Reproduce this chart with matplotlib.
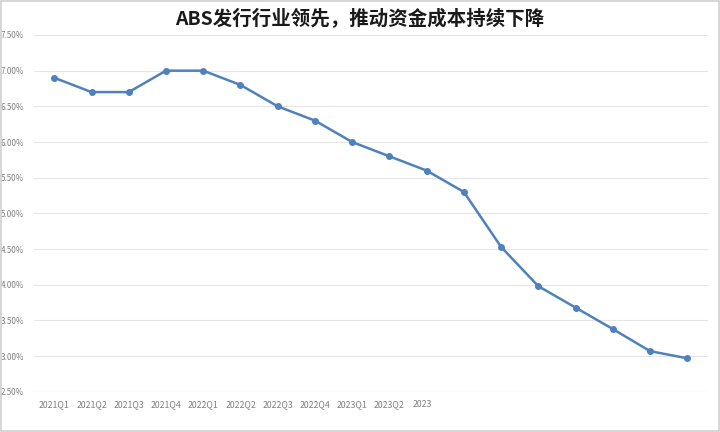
import matplotlib
matplotlib.use("Agg")
import matplotlib.pyplot as plt
from matplotlib.patches import Rectangle
from matplotlib.transforms import ScaledTranslation

plt.rcParams['font.family'] = ['Noto Sans CJK SC', 'DejaVu Sans']

# 季度融资成本（%）
quarters = ['2021Q1', '2021Q2', '2021Q3', '2021Q4', '2022Q1', '2022Q2', '2022Q3',
            '2022Q4', '2023Q1', '2023Q2', '2023Q3', '2023Q4', '2024Q1', '2024Q2',
            '2024Q3', '2024Q4', '2025Q1', '2025Q2']
cost = [6.90, 6.70, 6.70, 7.00, 7.00, 6.80, 6.50, 6.30, 6.00, 5.80, 5.60, 5.30,
        4.53, 3.98, 3.68, 3.38, 3.07, 2.97]
# 原图只看得到前面的横轴标签
shown_labels = ['2021Q1', '2021Q2', '2021Q3', '2021Q4', '2022Q1', '2022Q2', '2022Q3',
                '2022Q4', '2023Q1', '2023Q2', '2023', '', '', '', '', '', '', '']
yticks = [2.5, 3.0, 3.5, 4.0, 4.5, 5.0, 5.5, 6.0, 6.5, 7.0, 7.5]

fig = plt.figure(figsize=(7.2, 4.32), dpi=100)
ax = fig.add_axes([0.047, 0.093, 0.936, 0.826])

x = range(len(quarters))
ax.plot(x, cost, color='#4f81bd', lw=1.8, marker='o', ms=4, zorder=3)

ax.set_xlim(-0.55, len(quarters) - 0.45)
ax.set_ylim(2.5, 7.5)
ax.set_yticks(yticks)
ax.set_yticklabels(['%.2f%%' % v for v in yticks])
ax.set_xticks(list(x))
ax.set_xticklabels(shown_labels)
ax.tick_params(axis='x', length=0, labelsize=6.3, colors='#7f7f7f', pad=6)
ax.tick_params(axis='y', length=0, labelsize=5.8, colors='#7f7f7f', pad=7)
ax.grid(axis='y', color='#e6e6e6', lw=0.8)
for s in ax.spines.values():
    s.set_visible(False)
ax.axhline(2.5, color='#d9d9d9', lw=0.8)

# 被截断的 "2023" 标签左对齐到完整标签的起点
cut = ax.get_xticklabels()[10]
cut.set_ha('left')
cut.set_transform(cut.get_transform() + ScaledTranslation(-0.145, 0, fig.dpi_scale_trans))

fig.text(0.5, 0.955, 'ABS发行行业领先，推动资金成本持续下降', ha='center', va='center',
         fontsize=14, fontweight='bold', color='#1a1a1a')

fig.patches.append(Rectangle((0.002, 0.003), 0.996, 0.994, transform=fig.transFigure,
                             fill=False, ec='#d0d0d0', lw=1.2))

fig.savefig('out.png', dpi=100)
